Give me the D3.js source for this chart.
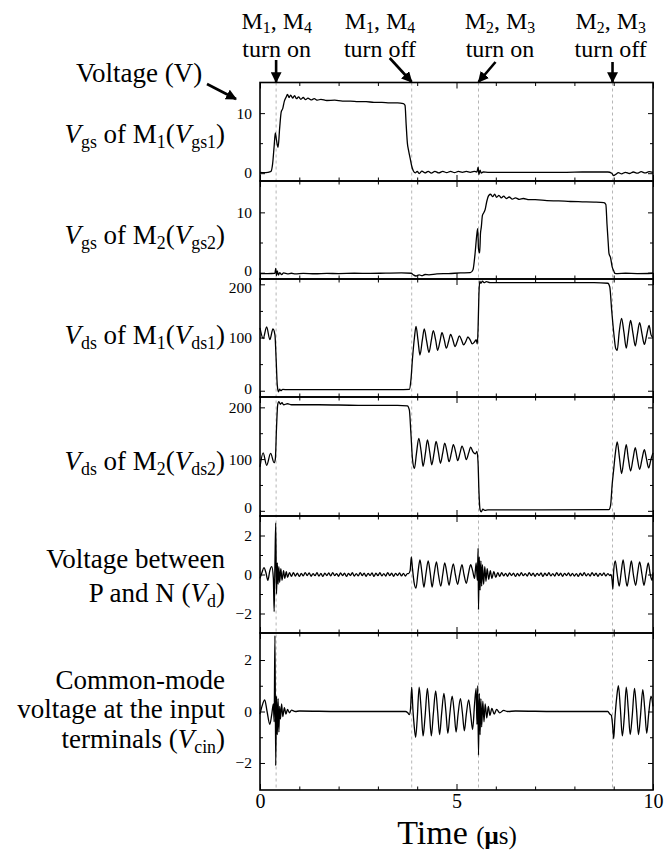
<!DOCTYPE html>
<html>
<head>
<meta charset="utf-8">
<script src="https://cdn.jsdelivr.net/npm/d3@7"></script>
<style>
  body { margin: 0; background: #fff; }
  svg { font-family: "Liberation Serif", "Times New Roman", serif; }
</style>
</head>
<body>
<svg id="chart" width="664" height="854"></svg>
<script>
// switching instants (us)
const events = [0.41, 3.86, 5.56, 8.97];

const xMajor = [0, 5, 10];
const xMinor = [1, 2, 3, 4, 6, 7, 8, 9];

// Vgs of M1
const vgs1 = [[0,0.15],[0.1,0.1],[0.2,0.15],[0.28,0.3],[0.32,1.5],[0.36,4.5],[0.39,6.7],[0.42,5.5],[0.46,4.3],
  [0.5,7.5],[0.54,10.2],[0.58,10.8],[0.62,12.0],[0.66,12.6],[0.7,13.1],[0.74,12.6],[0.78,13.0],[0.83,12.5],
  [0.88,12.9],[0.93,12.4],[0.98,12.7],[1.04,12.3],[1.1,12.6],[1.16,12.25],[1.22,12.5],[1.3,12.2],[1.38,12.4],
  [1.46,12.15],[1.55,12.3],[1.7,12.1],[1.9,12.15],[2.1,12.0],[2.3,12.0],[2.5,11.9],[2.7,11.9],[2.9,11.8],
  [3.1,11.8],[3.3,11.7],[3.5,11.7],[3.65,11.6],[3.69,11.3],[3.72,8],[3.75,5],[3.78,3.8],[3.82,2.5],[3.86,1.2],
  [3.9,0.4],[3.95,0.05],[4.0,0.3],[4.05,-0.05],[4.12,0.35],[4.2,0.05],[4.28,0.3],[4.36,0.0],[4.45,0.3],
  [4.55,0.05],[4.65,0.3],[4.75,0.1],[4.85,0.3],[4.95,0.1],[5.05,0.3],[5.15,0.15],[5.25,0.3],[5.35,0.15],
  [5.45,0.3],[5.52,0.2],[5.55,1.0],[5.57,-0.2],[5.6,0.5],[5.63,0.0],[5.68,0.2],[5.8,0.15],[6.2,0.15],
  [6.6,0.15],[7.0,0.15],[7.4,0.15],[7.8,0.15],[8.2,0.2],[8.6,0.2],[8.85,0.2],[8.95,0.0],[9.0,-0.4],
  [9.05,-0.2],[9.12,0.1],[9.2,-0.1],[9.3,0.15],[9.4,-0.05],[9.5,0.2],[9.6,0.0],[9.7,0.25],[9.8,0.05],
  [9.9,0.25],[10,0.15]];

// Vgs of M2
const vgs2 = [[0,-0.15],[0.2,-0.15],[0.38,-0.1],[0.4,0.7],[0.42,-0.5],[0.44,0.3],[0.47,-0.4],[0.5,0.0],
  [0.55,-0.3],[0.6,-0.05],[0.7,-0.2],[0.8,-0.1],[0.9,-0.2],[1.1,-0.12],[1.4,-0.18],[1.7,-0.12],[2.0,-0.15],
  [2.4,-0.1],[2.8,-0.12],[3.2,-0.08],[3.6,-0.05],[3.85,-0.1],[3.9,-0.35],[3.97,-0.55],[4.05,-0.35],
  [4.12,-0.5],[4.2,-0.3],[4.3,-0.35],[4.5,-0.2],[4.8,-0.15],[5.1,-0.05],[5.35,0.0],[5.42,0.5],[5.47,3],
  [5.52,6.5],[5.54,7.3],[5.56,4],[5.59,3.3],[5.61,6.5],[5.63,7.5],[5.66,9.5],[5.7,10.0],[5.73,10.5],
  [5.77,11.8],[5.82,12.8],[5.87,13.0],[5.92,12.6],[5.97,13.0],[6.02,12.5],[6.08,12.8],[6.14,12.4],
  [6.2,12.7],[6.27,12.3],[6.34,12.55],[6.42,12.2],[6.5,12.4],[6.6,12.15],[6.7,12.3],[6.85,12.1],
  [7.0,12.1],[7.3,11.95],[7.6,11.9],[7.9,11.8],[8.2,11.75],[8.5,11.7],[8.75,11.6],[8.8,11.3],[8.83,8],
  [8.86,5],[8.88,3.2],[8.92,2.5],[8.96,1],[9.0,0.3],[9.03,-0.1],[9.1,-0.15],[9.3,-0.1],[9.6,-0.15],[10,-0.1]];

// Vds of M1
const vds1 = [[0,118],[0.08,98],[0.17,120],[0.25,96],[0.33,116],[0.38,105],[0.41,60],[0.44,10],[0.47,-2],
  [0.5,3],[0.53,0],[0.58,2.5],[0.7,2],[1.5,2],[2.5,2],[3.5,2],[3.8,2.5],[3.84,20],[3.88,60],[3.93,100],
  [3.97,121],[4.02,95],[4.07,67],[4.13,95],[4.18,116],[4.24,93],[4.3,72],[4.36,95],[4.41,113],[4.47,95],
  [4.52,76],[4.58,93],[4.63,109],[4.69,95],[4.74,80],[4.8,93],[4.85,106],[4.91,95],[4.96,83],[5.02,93],
  [5.07,103],[5.13,95],[5.18,86],[5.24,93],[5.29,101],[5.35,95],[5.4,88],[5.46,92],[5.5,96],[5.53,88],
  [5.55,120],[5.57,180],[5.59,206],[5.62,202],[5.66,206],[5.7,203],[5.76,205],[5.85,203],[6.5,203],
  [7.5,203],[8.5,203],[8.85,202],[8.9,195],[8.95,150],[9.0,110],[9.05,80],[9.09,76],[9.14,110],[9.2,136],
  [9.26,110],[9.32,80],[9.37,105],[9.43,132],[9.49,108],[9.55,84],[9.6,105],[9.66,128],[9.72,107],
  [9.78,87],[9.84,105],[9.9,123],[9.95,105],[10,100]];

// Vds of M2
const vds2 = [[0,85],[0.08,112],[0.17,88],[0.27,111],[0.36,93],[0.39,100],[0.42,160],[0.45,205],[0.48,211],
  [0.52,206],[0.56,209],[0.6,205],[0.7,207],[0.8,205],[1.5,205],[2.5,204],[3.5,204],[3.75,203],[3.8,195],
  [3.84,150],[3.88,100],[3.93,82],[3.98,110],[4.04,140],[4.1,115],[4.15,86],[4.21,112],[4.26,137],
  [4.32,113],[4.37,89],[4.43,112],[4.48,134],[4.54,113],[4.59,92],[4.65,112],[4.7,131],[4.76,113],
  [4.81,95],[4.87,112],[4.92,128],[4.98,113],[5.03,97],[5.09,112],[5.14,125],[5.2,113],[5.25,99],
  [5.31,112],[5.36,123],[5.42,114],[5.48,110],[5.52,115],[5.55,90],[5.57,40],[5.6,2],[5.63,-2],[5.67,3],
  [5.72,1],[5.8,2],[7,2],[8.88,2.5],[8.92,10],[8.96,50],[9.0,80],[9.04,110],[9.09,133],[9.15,100],
  [9.2,72],[9.26,100],[9.32,128],[9.37,102],[9.43,77],[9.49,100],[9.55,122],[9.6,102],[9.66,80],
  [9.72,100],[9.78,118],[9.83,102],[9.89,83],[9.95,100],[10,112]];

// voltage between P and N
const vd = [[0,-0.2],[0.05,0.1],[0.1,0.35],[0.15,0.1],[0.2,-0.3],[0.25,0.2],[0.3,0.4],[0.34,-0.2],
  [0.36,-1.9],[0.38,0.5],[0.4,2.65],[0.42,-1.0],[0.44,0.6],[0.46,-0.5],[0.48,0.4],[0.5,-0.4],[0.53,0.3],
  [0.56,-0.3],[0.6,0.2],[0.63,-0.2],[0.67,0.15],[0.7,-0.15],[0.75,0.1],[0.8,-0.1],
  [0.85,0.1],[0.9,-0.08],[0.95,0.07],[1.0,-0.1],[1.05,0.06],[1.1,-0.07],[1.15,0.1],[1.2,-0.05],[1.25,0.08],
  [1.3,-0.09],[1.35,0.05],[1.4,-0.06],[1.45,0.09],[1.5,-0.08],[1.55,0.06],[1.6,-0.1],[1.65,0.07],[1.7,-0.05],
  [1.75,0.08],[1.8,-0.07],[1.85,0.1],[1.9,-0.06],[1.95,0.05],[2.0,-0.09],[2.05,0.08],[2.1,-0.06],[2.15,0.07],
  [2.2,-0.1],[2.25,0.06],[2.3,-0.05],[2.35,0.09],[2.4,-0.08],[2.45,0.05],[2.5,-0.07],[2.55,0.1],[2.6,-0.06],
  [2.65,0.07],[2.7,-0.09],[2.75,0.06],[2.8,-0.05],[2.85,0.08],[2.9,-0.1],[2.95,0.07],[3.0,-0.06],[3.05,0.09],
  [3.1,-0.07],[3.15,0.05],[3.2,-0.08],[3.25,0.1],[3.3,-0.06],[3.35,0.07],[3.4,-0.09],[3.45,0.06],[3.5,-0.05],
  [3.55,0.08],[3.6,-0.07],[3.65,0.06],[3.7,-0.08],[3.75,0.05],
  [3.78,0.05],[3.82,0.2],[3.85,0.9],[3.88,0.3],[3.92,-0.4],[3.97,-0.7],[4.02,0.1],[4.07,0.75],[4.12,0.1],
  [4.17,-0.65],[4.22,0.0],[4.28,0.7],[4.33,0.1],[4.38,-0.65],[4.43,0.0],[4.49,0.65],[4.54,0.0],[4.6,-0.6],
  [4.65,0.0],[4.7,0.6],[4.76,0.0],[4.81,-0.55],[4.86,0.0],[4.92,0.55],[4.97,0.0],[5.03,-0.5],[5.08,0.0],
  [5.14,0.5],[5.19,0.0],[5.25,-0.45],[5.3,0.0],[5.36,0.5],[5.41,0.2],[5.46,-0.2],[5.5,0.6],[5.53,-0.3],
  [5.55,1.35],[5.56,-1.8],[5.58,0.9],[5.6,-0.8],[5.62,0.7],[5.64,-0.6],[5.66,0.5],[5.69,-0.5],[5.72,0.4],
  [5.75,-0.35],[5.78,0.3],[5.82,-0.25],[5.86,0.2],[5.9,-0.2],[5.95,0.15],[6.0,-0.15],[6.05,0.1],[6.1,-0.1],
  [6.15,0.1],[6.2,-0.07],[6.25,0.06],[6.3,-0.09],[6.35,0.08],[6.4,-0.05],[6.45,0.07],[6.5,-0.1],[6.55,0.06],
  [6.6,-0.07],[6.65,0.09],[6.7,-0.06],[6.75,0.05],[6.8,-0.08],[6.85,0.1],[6.9,-0.06],[6.95,0.07],[7.0,-0.09],
  [7.05,0.06],[7.1,-0.05],[7.15,0.08],[7.2,-0.1],[7.25,0.07],[7.3,-0.06],[7.35,0.09],[7.4,-0.07],[7.45,0.05],
  [7.5,-0.08],[7.55,0.1],[7.6,-0.06],[7.65,0.07],[7.7,-0.09],[7.75,0.06],[7.8,-0.05],[7.85,0.08],[7.9,-0.07],
  [7.95,0.06],[8.0,-0.08],[8.05,0.05],[8.1,-0.1],[8.15,0.07],[8.2,-0.06],[8.25,0.09],[8.3,-0.07],[8.35,0.05],
  [8.4,-0.08],[8.45,0.1],[8.5,-0.06],[8.55,0.07],[8.6,-0.09],[8.65,0.06],[8.7,-0.05],[8.75,0.08],[8.8,-0.07],
  [8.85,0.05],[8.9,-0.05],[8.93,0.0],[8.96,-0.3],[8.98,-0.75],[9.0,0.2],[9.04,0.7],[9.09,0.0],[9.14,-0.6],
  [9.19,0.1],[9.24,0.75],[9.29,0.0],[9.34,-0.6],[9.4,0.1],[9.45,0.7],[9.5,0.0],[9.56,-0.55],[9.61,0.1],
  [9.66,0.65],[9.72,0.0],[9.77,-0.55],[9.83,0.1],[9.88,0.6],[9.93,0.0],[9.98,-0.3],[10,0.1]];

// common-mode voltage at the input terminals
const vcin = [[0,-0.1],[0.05,0.2],[0.12,0.45],[0.18,0.0],[0.25,-0.5],[0.3,-0.1],[0.34,0.3],[0.36,-0.4],
  [0.38,2.95],[0.4,-2.1],[0.42,0.6],[0.44,-0.9],[0.46,0.5],[0.48,-0.8],[0.5,0.2],[0.52,-0.3],[0.55,0.3],
  [0.58,-0.2],[0.62,0.15],[0.66,-0.1],[0.7,0.08],[0.75,-0.05],[0.8,0.05],[0.9,0.0],[1.0,0.02],[2.0,0.0],
  [3.0,0.0],[3.7,0],[3.76,-0.05],[3.8,-0.12],[3.83,0.1],[3.86,0.95],[3.89,0.1],[3.92,-0.5],[3.96,-1.0],
  [4.0,-0.3],[4.05,0.95],[4.1,0.1],[4.15,-0.95],[4.2,-0.2],[4.26,0.9],[4.31,0.0],[4.36,-0.95],[4.41,-0.1],
  [4.47,0.8],[4.52,0.0],[4.57,-0.9],[4.62,-0.1],[4.68,0.7],[4.73,0.0],[4.78,-0.85],[4.83,-0.1],[4.89,0.6],
  [4.94,0.0],[4.99,-0.8],[5.04,-0.1],[5.1,0.5],[5.15,-0.05],[5.2,-0.75],[5.25,-0.1],[5.31,0.45],[5.36,-0.1],
  [5.41,-0.7],[5.46,0.3],[5.5,0.9],[5.52,-0.5],[5.54,1.0],[5.56,-1.7],[5.58,0.7],[5.6,-0.9],[5.62,0.5],
  [5.64,-0.6],[5.67,0.4],[5.7,-0.4],[5.73,0.3],[5.77,-0.25],[5.81,0.2],[5.85,-0.15],[5.9,0.12],[5.96,-0.1],
  [6.02,0.08],[6.1,-0.05],[6.2,0.04],[6.3,0.0],[6.5,0.02],[7.5,0.0],[8.85,0],[8.9,-0.1],[8.94,-0.15],
  [8.97,-0.5],[9.0,-1.05],[9.03,-0.3],[9.08,0.6],[9.12,1.0],[9.17,0.1],[9.22,-0.95],[9.27,-0.2],[9.32,0.95],
  [9.37,0.1],[9.42,-0.9],[9.47,-0.2],[9.53,0.9],[9.58,0.1],[9.63,-0.9],[9.68,-0.2],[9.74,0.85],[9.79,0.1],
  [9.84,-0.85],[9.89,-0.1],[9.95,0.6],[10,0.2]];

const yMajor = [[0, 10], [0, 10], [0, 100, 200], [0, 100, 200], [-2, 0, 2], [-2, 0, 2]];
const yMinor = [[5], [5], [50, 150], [50, 150], [-1, 1], [-1, 1]];

// label pieces: [text, kind] where kind is "" normal, "i" italic, "s" subscript
const labels = [
  [[["V","i"],["gs","s"],[" of M",""],["1","s"],["(",""],["V","i"],["gs1","s"],[")",""]]],
  [[["V","i"],["gs","s"],[" of M",""],["2","s"],["(",""],["V","i"],["gs2","s"],[")",""]]],
  [[["V","i"],["ds","s"],[" of M",""],["1","s"],["(",""],["V","i"],["ds1","s"],[")",""]]],
  [[["V","i"],["ds","s"],[" of M",""],["2","s"],["(",""],["V","i"],["ds2","s"],[")",""]]],
  [[["Voltage between",""]], [["P and N (",""],["V","i"],["d","s"],[")",""]]],
  [[["Common-mode",""]], [["voltage at the input",""]], [["terminals (",""],["V","i"],["cin","s"],[")",""]]]
];
const annotations = [
  [[["M",""],["1","s"],[", M",""],["4","s"]], [["turn on",""]]],
  [[["M",""],["1","s"],[", M",""],["4","s"]], [["turn off",""]]],
  [[["M",""],["2","s"],[", M",""],["3","s"]], [["turn on",""]]],
  [[["M",""],["2","s"],[", M",""],["3","s"]], [["turn off",""]]]
];

const series = [vgs1, vgs2, vds1, vds2, vd, vcin];

// layout
const left = 260, right = 653;
const bounds = [82.5, 181, 279, 397, 516, 633, 790];
const domains = [[-1.3, 15.1], [-1.05, 15.2], [-11.8, 210], [-10, 220], [-3, 3], [-3.05, 3.05]];
const labelBase = [[143], [244], [344], [470], [568, 601.5], [689, 718, 748]];

const svg = d3.select('#chart');

const x = d3.scaleLinear().domain([0, 10]).range([left, right]);

svg.append('defs').append('marker')
  .attr('id', 'head')
  .attr('viewBox', '0 0 10 10')
  .attr('refX', 9).attr('refY', 5)
  .attr('markerWidth', 4.2).attr('markerHeight', 4.2)
  .attr('orient', 'auto')
  .append('path').attr('d', 'M0,0 L10,5 L0,10 z').attr('fill', '#000');

function richText(sel, parts, size) {
  parts.forEach(p => {
    const t = sel.append('tspan').text(p[0]);
    if (p[1] === 'i') t.attr('font-style', 'italic');
    if (p[1] === 's') t.attr('font-size', size * 0.66).attr('baseline-shift', '-' + Math.round(size * 0.18) + 'px');
  });
}

// dashed guide lines at the switching instants
svg.append('g').selectAll('line').data(events).join('line')
  .attr('x1', d => x(d)).attr('x2', d => x(d))
  .attr('y1', bounds[0]).attr('y2', bounds[6])
  .attr('stroke', '#b5b5b5').attr('stroke-width', 1)
  .attr('stroke-dasharray', '3,3');

series.forEach((data, i) => {
  const top = bounds[i], bottom = bounds[i + 1];
  const y = d3.scaleLinear().domain(domains[i]).range([bottom, top]);
  const g = svg.append('g');

  // waveform
  g.append('path')
    .datum(data)
    .attr('fill', 'none')
    .attr('stroke', '#000')
    .attr('stroke-width', 1.3)
    .attr('stroke-linejoin', 'round')
    .attr('d', d3.line().curve(d3.curveMonotoneX).x(d => x(d[0])).y(d => y(d[1])));

  // left and right axes, ticks pointing inward
  const yl = d3.axisLeft(y).tickValues(yMajor[i]).tickSize(-5).tickPadding(8).tickFormat(d3.format('d'));
  const yr = d3.axisRight(y).tickValues(yMajor[i]).tickSize(-5).tickFormat('');
  const gl = g.append('g').attr('transform', `translate(${left},0)`).call(yl);
  g.append('g').attr('transform', `translate(${right},0)`).call(yr);
  g.append('g').attr('transform', `translate(${left},0)`)
    .call(d3.axisLeft(y).tickValues(yMinor[i]).tickSize(-3).tickFormat(''));
  g.append('g').attr('transform', `translate(${right},0)`)
    .call(d3.axisRight(y).tickValues(yMinor[i]).tickSize(-3).tickFormat(''));
  // keep the labels at the panel edges from running into the next panel
  gl.selectAll('text')
    .attr('font-size', 15.5).attr('font-family', 'Liberation Serif')
    .attr('y', d => {
      const py = y(d);
      const c = Math.max(top + 8.5, Math.min(bottom - 8.5, py));
      return c - py;
    });

  // top and bottom ticks
  g.append('g').attr('transform', `translate(0,${bottom})`)
    .call(d3.axisBottom(x).tickValues(xMajor).tickSize(-6).tickFormat(''));
  g.append('g').attr('transform', `translate(0,${bottom})`)
    .call(d3.axisBottom(x).tickValues(xMinor).tickSize(-3.5).tickFormat(''));
  g.append('g').attr('transform', `translate(0,${top})`)
    .call(d3.axisTop(x).tickValues(xMajor).tickSize(-6).tickFormat(''));
  g.append('g').attr('transform', `translate(0,${top})`)
    .call(d3.axisTop(x).tickValues(xMinor).tickSize(-3.5).tickFormat(''));

  g.selectAll('.domain').remove();
  g.selectAll('.tick line').attr('stroke', '#000').attr('stroke-width', 1);

  g.append('rect')
    .attr('x', left).attr('y', top)
    .attr('width', right - left).attr('height', bottom - top)
    .attr('fill', 'none').attr('stroke', '#000').attr('stroke-width', 1.6);

  // panel label
  labels[i].forEach((line, k) => {
    const t = svg.append('text')
      .attr('x', 225).attr('y', labelBase[i][k])
      .attr('text-anchor', 'end')
      .attr('font-size', 27);
    richText(t, line, 27);
  });
});

// bottom time axis labels
svg.append('g').attr('transform', `translate(0,${bounds[6]})`)
  .call(d3.axisBottom(x).tickValues(xMajor).tickSize(0).tickPadding(4).tickFormat(d3.format('d')))
  .call(g => g.select('.domain').remove())
  .selectAll('text').attr('font-size', 20).attr('font-family', 'Liberation Serif');

const xt = svg.append('text').attr('x', 457).attr('y', 844).attr('text-anchor', 'middle');
xt.append('tspan').attr('font-size', 34).text('Time ');
xt.append('tspan').attr('font-size', 25).text('(');
xt.append('tspan').attr('font-size', 25).attr('font-weight', 'bold').text('μ');
xt.append('tspan').attr('font-size', 25).text('s)');

// "Voltage (V)" with arrow
svg.append('text').attr('x', 76).attr('y', 82).attr('font-size', 27).text('Voltage (V)');
svg.append('line')
  .attr('x1', 207).attr('y1', 84).attr('x2', left - 24).attr('y2', 99)
  .attr('stroke', '#000').attr('stroke-width', 2.6).attr('marker-end', 'url(#head)');

// switching annotations above the top panel
const annoX = [276.7, 380, 500, 610.7];
const arrowFrom = [[0, 60], [-22, 58], [17, 62], [0, 62]];
annotations.forEach((a, i) => {
  a.forEach((line, k) => {
    const t = svg.append('text')
      .attr('x', annoX[i]).attr('y', k === 0 ? 29 : 57)
      .attr('text-anchor', 'middle').attr('font-size', 24);
    richText(t, line, 24);
  });
  const tx = x(events[i]);
  svg.append('line')
    .attr('x1', tx + arrowFrom[i][0]).attr('y1', arrowFrom[i][1])
    .attr('x2', tx).attr('y2', bounds[0] - 0.5)
    .attr('stroke', '#000').attr('stroke-width', 2.6).attr('marker-end', 'url(#head)');
});
</script>
</body>
</html>
